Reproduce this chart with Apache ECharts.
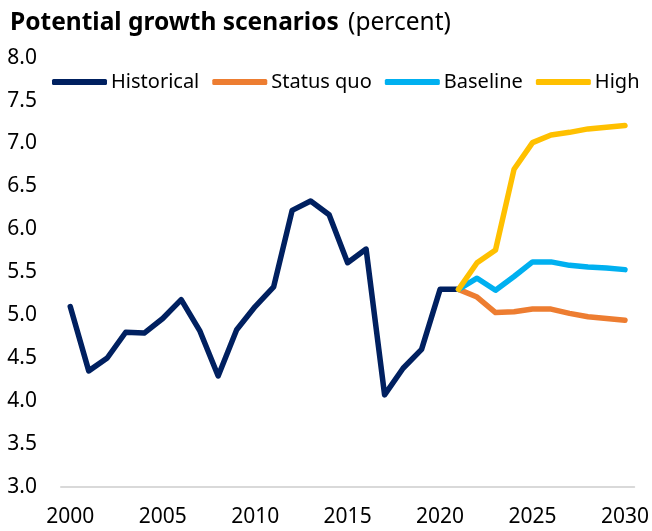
<!DOCTYPE html>
<html><head><meta charset="utf-8">
<script src="https://cdn.jsdelivr.net/npm/echarts@6/dist/echarts.min.js"></script>
<style>html,body{margin:0;padding:0;background:#fff}#c{width:652px;height:531px}</style>
</head><body><div id="c"></div>
<script>
const years = [];
for (let y = 2000; y <= 2030; y++) years.push(String(y));
const historical = [5.10,4.35,4.50,4.80,4.79,4.96,5.18,4.82,4.29,4.83,5.10,5.33,6.22,6.33,6.17,5.61,5.77,4.07,4.38,4.60,5.30,5.30];
const statusQuo = [5.30,5.21,5.03,5.04,5.07,5.07,5.02,4.98,4.96,4.94];
const baseline = [5.30,5.43,5.29,5.45,5.62,5.62,5.58,5.56,5.55,5.53];
const high = [5.30,5.61,5.76,6.70,7.01,7.10,7.13,7.17,7.19,7.21];
const yTicks = ['3.0','3.5','4.0','4.5','5.0','5.5','6.0','6.5','7.0','7.5','8.0'];
const FONT = 'Noto Sans';
function pad(arr, startYear) {
  const out = years.map(() => null);
  const s = +startYear - 2000;
  arr.forEach((v, i) => out[s + i] = v);
  return out;
}
const chart = echarts.init(document.getElementById('c'));
const mk = (name, data, color) => ({
  name, type: 'line', data, showSymbol: false, symbol: 'none',
  lineStyle: { color, width: 5.5, cap: 'round', join: 'round' },
  itemStyle: { color }, connectNulls: false, animation: false
});
chart.setOption({
  animation: false,
  textStyle: { fontFamily: FONT },
  title: {
    text: '{b|Potential growth scenarios}  {n|(percent)}',
    left: 5, top: 6,
    textStyle: { fontWeight: 'normal', rich: {
      b: { fontFamily: FONT, fontWeight: 'bold', fontSize: 24.5, color: '#000' },
      n: { fontFamily: FONT, fontWeight: 'normal', fontSize: 24.5, color: '#000' }
    } }
  },
  legend: {
    left: 47, top: 67, icon: 'roundRect', itemWidth: 55, itemHeight: 6, itemGap: 13,
    textStyle: { fontFamily: FONT, fontSize: 20, color: '#000', padding: [0,0,0,-1] },
    data: ['Historical','Status quo','Baseline','High']
  },
  grid: { left: 61, right: 17, top: 57.7, bottom: 44.3, containLabel: false },
  xAxis: {
    type: 'category', data: years, boundaryGap: true,
    axisLine: { lineStyle: { color: '#d9d9d9', width: 2 } },
    axisTick: { show: false },
    axisLabel: { interval: 4, fontFamily: FONT, fontSize: 21, color: '#000', margin: 20 }
  },
  yAxis: {
    type: 'value', min: 3, max: 8, interval: 0.5,
    axisLine: { show: false }, axisTick: { show: false }, splitLine: { show: false },
    axisLabel: { fontFamily: FONT, fontSize: 21, color: '#000', margin: 24,
      formatter: v => yTicks[Math.round((v - 3) / 0.5)] }
  },
  series: [
    mk('Historical', pad(historical, 2000), '#002060'),
    mk('Status quo', pad(statusQuo, 2021), '#ED7D31'),
    mk('Baseline', pad(baseline, 2021), '#00B0F0'),
    mk('High', pad(high, 2021), '#FFC000')
  ]
});
</script></body></html>
